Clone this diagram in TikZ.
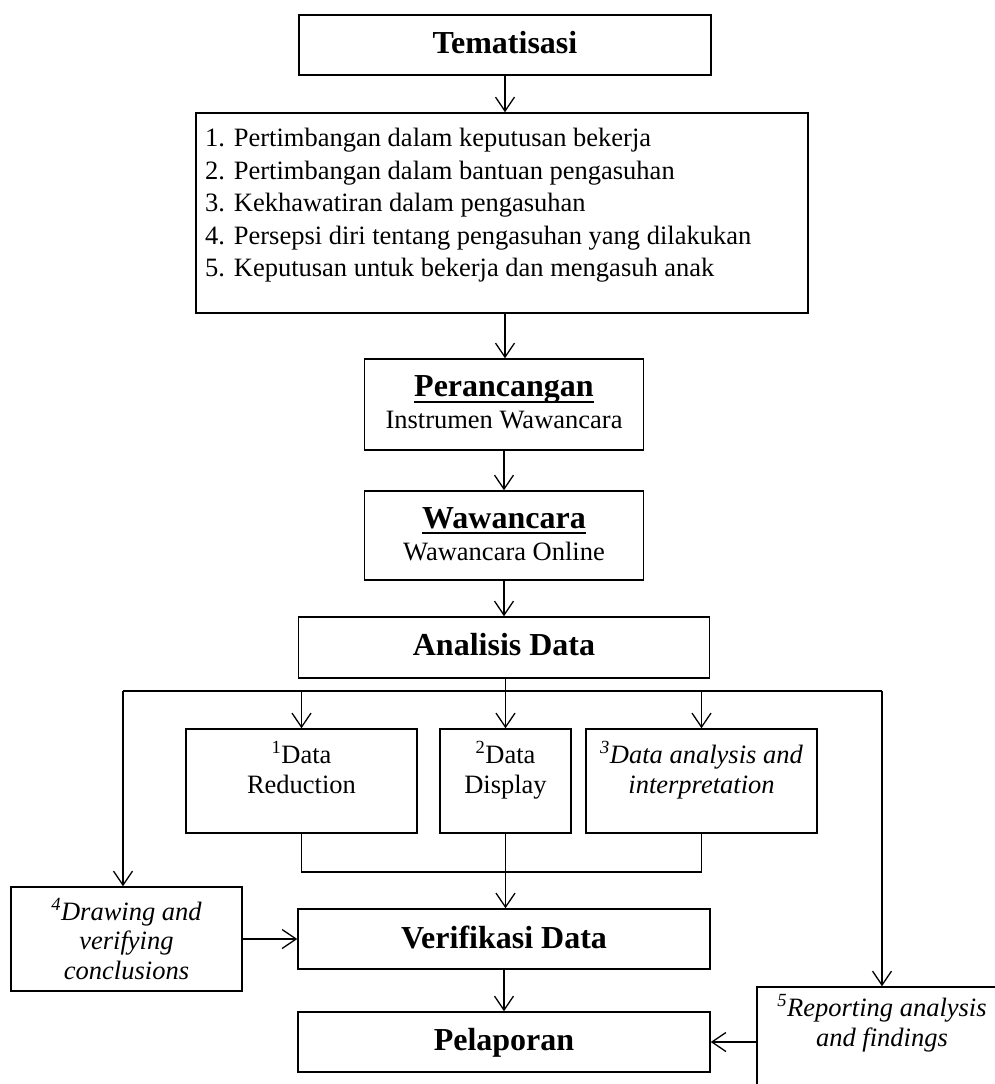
\documentclass[tikz,border=0pt]{standalone}
\usepackage{fontspec}
\setmainfont{Liberation Serif}
\usetikzlibrary{arrows.meta}
\begin{document}
\begin{tikzpicture}[x=1pt,y=-1pt,
  box/.style={draw, line width=1.5pt, inner sep=0pt},
  conn/.style={line width=1.3pt},
  arr/.style={conn, -{Straight Barb[length=14pt,width=19pt,line width=1.3pt]}},
  bt/.style={font=\fontsize{32}{38}\selectfont\bfseries, inner sep=0pt, anchor=base},
  rt/.style={font=\fontsize{26.5}{31}\selectfont, inner sep=0pt, anchor=base},
  lt/.style={font=\fontsize{26.5}{31}\selectfont, inner sep=0pt, anchor=base west},
  it/.style={font=\fontsize{26.5}{31}\selectfont\itshape, inner sep=0pt, anchor=base}]
\useasboundingbox (0,0) rectangle (995,1084);
% boxes
\node[box, minimum width=412pt, minimum height=60pt] (tema) at (505,45) {};
\node[box, minimum width=612pt, minimum height=200pt] (list) at (502,213) {};
\node[box, minimum width=279pt, minimum height=91pt] (pera) at (504,404.5) {};
\node[box, minimum width=279pt, minimum height=89pt] (waw) at (504,535.5) {};
\node[box, minimum width=411pt, minimum height=61pt] (ana) at (504,647.5) {};
\node[box, minimum width=231pt, minimum height=104pt] (red) at (301.5,781) {};
\node[box, minimum width=131pt, minimum height=104pt] (dis) at (505.5,781) {};
\node[box, minimum width=231pt, minimum height=104pt] (dan) at (701.5,781) {};
\node[box, minimum width=231pt, minimum height=104pt] (drw) at (126.5,939) {};
\node[box, minimum width=412pt, minimum height=60pt] (ver) at (504,939) {};
\node[box, minimum width=412pt, minimum height=60pt] (pel) at (504,1042) {};
\node[box, minimum width=250pt, minimum height=104pt] (rep) at (882,1039) {};
% texts
\node[bt] (ttema) at (505,53) {Tematisasi};
\node[lt] (l1) at (205,146.7) {1. Pertimbangan dalam keputusan bekerja};
\node[lt] (l2) at (205,179) {2. Pertimbangan dalam bantuan pengasuhan};
\node[lt] (l3) at (205,211.5) {3. Kekhawatiran dalam pengasuhan};
\node[lt] (l4) at (205,244) {4. Persepsi diri tentang pengasuhan yang dilakukan};
\node[lt] (l5) at (205,276.5) {5. Keputusan untuk bekerja dan mengasuh anak};
\node[bt] (tpera) at (504,396.7) {Perancangan};
\draw[line width=2pt] ([yshift=-5pt]tpera.base west) -- ([yshift=-5pt]tpera.base east);
\node[rt] (tpera2) at (504,428) {Instrumen Wawancara};
\node[bt] (twaw) at (504,528) {Wawancara};
\draw[line width=2pt] ([yshift=-5pt]twaw.base west) -- ([yshift=-5pt]twaw.base east);
\node[rt] (twaw2) at (504,560) {Wawancara Online};
\node[bt] (tana) at (504,655) {Analisis Data};
\node[rt] (tred1) at (301.5,763) {\textsuperscript{1}Data};
\node[rt] (tred2) at (301.5,793) {Reduction};
\node[rt] (tdis1) at (505.5,763) {\textsuperscript{2}Data};
\node[rt] (tdis2) at (505.5,793) {Display};
\node[it] (tdan1) at (701.5,763) {\textsuperscript{3}Data analysis and};
\node[it] (tdan2) at (701.5,793) {interpretation};
\node[it] (tdrw1) at (126.5,920) {\textsuperscript{4}Drawing and};
\node[it] (tdrw2) at (126.5,949) {verifying};
\node[it] (tdrw3) at (126.5,979) {conclusions};
\node[bt] (tver) at (504,948) {Verifikasi Data};
\node[bt] (tpel) at (504,1050) {Pelaporan};
\node[it] (trep1) at (882,1016) {\textsuperscript{5}Reporting analysis};
\node[it] (trep2) at (882,1046) {and findings};
% connectors
\coordinate (hl) at (123,691);
\coordinate (hr) at (882,691);
\draw[arr] (tema.south) -- (tema.south |- list.north);
\draw[arr] (tema.south |- list.south) -- (tema.south |- pera.north);
\draw[arr] (pera.south) -- (waw.north);
\draw[arr] (waw.south) -- (ana.north);
\draw[conn] (hl) -- (hr);
\draw[conn] (dis.north |- ana.south) -- (dis.north |- hl);
\draw[arr] (red.north |- hl) -- (red.north);
\draw[arr] (dis.north |- hl) -- (dis.north);
\draw[arr] (dan.north |- hl) -- (dan.north);
\draw[arr] (hl) -- (hl |- drw.north);
\draw[arr] (hr) -- (hr |- rep.north);
\draw[conn] (red.south) -- (red.south |- 0,872) -| (dan.south);
\draw[arr] (dis.south) -- (dis.south |- ver.north);
\draw[arr] (drw.east) -- (ver.west);
\draw[arr] (ver.south) -- (pel.north);
\draw[arr] (rep.west |- pel.east) -- (pel.east);
\end{tikzpicture}
\end{document}
